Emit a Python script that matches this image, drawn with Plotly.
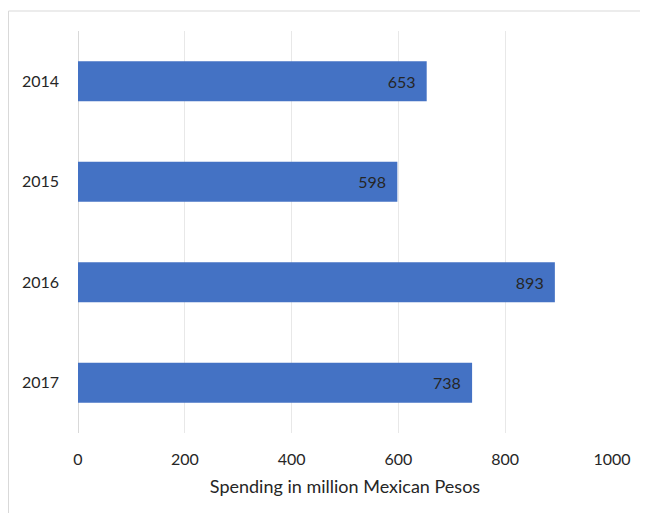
import plotly.graph_objects as go

years = ["2014", "2015", "2016", "2017"]
spending = [653, 598, 893, 738]
x_ticks = [0, 200, 400, 600, 800, 1000]

FONT = "Lato"
fig = go.Figure()
fig.add_trace(go.Bar(
    y=years, x=spending, orientation="h",
    marker=dict(color="#4472C4", line=dict(width=0)),
    width=0.4,
    texttemplate="%{x}  ",
    textposition="inside", insidetextanchor="end",
    textfont=dict(family=FONT, size=16, color="#262626"),
    hoverinfo="skip",
))

# page has an 8px body margin; figure sized to fill the window
L, R, T, B = 70, 36, 23, 80
W, H = 640, 505
pw, ph = W - L - R, H - T - B

def px(xp):
    return (xp - L) / pw

def py(yp):
    return (H - B - yp) / ph

fig.add_shape(type="rect", xref="paper", yref="paper",
              x0=px(0.5), x1=px(700), y0=py(700), y1=py(3),
              line=dict(color="#d9d9d9", width=1), fillcolor="rgba(0,0,0,0)", layer="below")

fig.update_layout(
    width=W, height=H,
    margin=dict(l=L, r=R, t=T, b=B),
    paper_bgcolor="white", plot_bgcolor="white",
    showlegend=False,
    font=dict(family=FONT, size=16, color="#262626"),
    xaxis=dict(range=[0, 1000], tickvals=x_ticks, ticktext=[str(v) for v in x_ticks],
               showgrid=True, gridcolor="#e8e8e8", gridwidth=1,
               zeroline=True, zerolinecolor="#d9d9d9", zerolinewidth=1,
               showline=False, ticks="", ticklabelstandoff=15,
               title=dict(text="Spending in million Mexican Pesos", standoff=13,
                          font=dict(family=FONT, size=18, color="#262626")),
               tickfont=dict(family=FONT, size=16, color="#262626"), fixedrange=True),
    yaxis=dict(categoryorder="array", categoryarray=years, autorange="reversed",
               showgrid=False, showline=False, ticks="", ticklabelstandoff=18,
               tickfont=dict(family=FONT, size=16, color="#262626"), fixedrange=True),
)

fig.write_html("out.html")
